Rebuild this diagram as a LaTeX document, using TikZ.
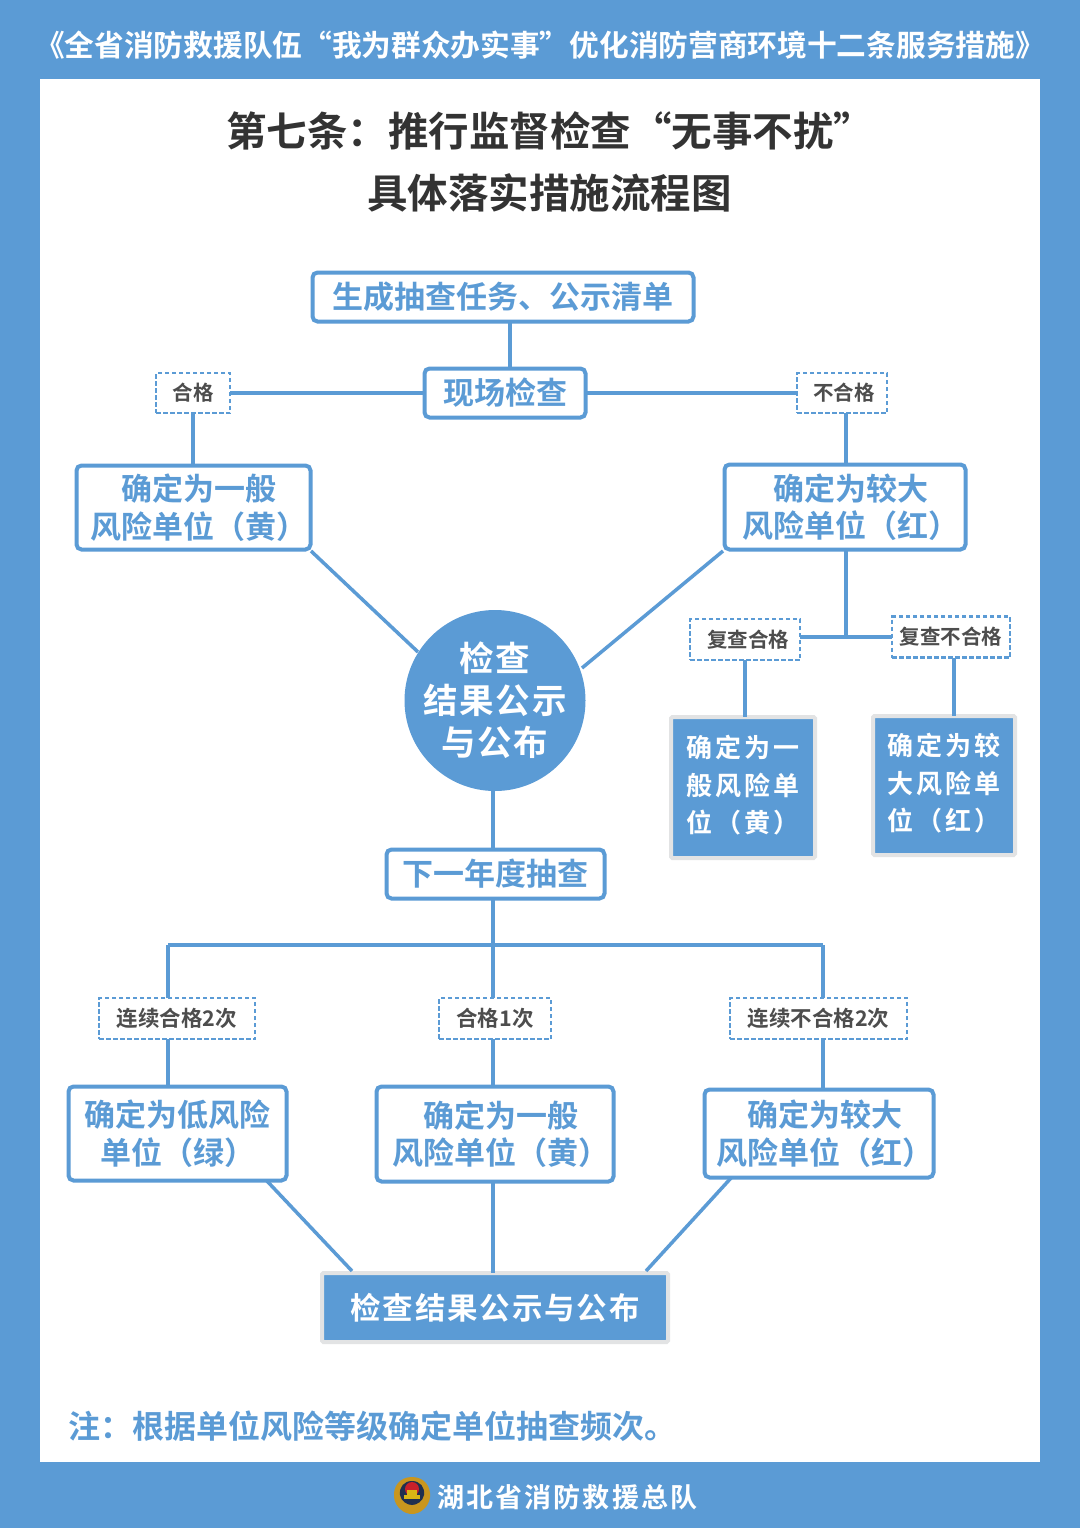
\documentclass[tikz,border=0pt]{standalone}
\usepackage{fontspec}
\setmainfont{Noto Sans CJK SC}
\newfontfamily\cjkb[BoldFont={Noto Sans CJK SC Bold}]{Noto Sans CJK SC}
\newfontfamily\cjkw[LetterSpace=11]{Noto Sans CJK SC Bold}
\newfontfamily\cjkv[LetterSpace=5]{Noto Sans CJK SC Bold}
\newfontfamily\cjkc[LetterSpace=6]{Noto Sans CJK SC Bold}
\newfontfamily\cjkf[LetterSpace=8]{Noto Sans CJK SC Bold}
\definecolor{bl}{HTML}{5B9BD5}
\definecolor{dk}{HTML}{333333}
\definecolor{lab}{HTML}{4D4D4D}
\definecolor{gy}{HTML}{E2E3E4}
\definecolor{gold}{HTML}{C9961E}
\definecolor{navy}{HTML}{1F2F4F}
\definecolor{emred}{HTML}{C8202A}
\newcommand{\sh}{\hspace*{11pt}}
\newcommand{\upblock}[2]{\raisebox{#1}{\begin{tabular}{@{}l@{}}#2\end{tabular}}}
\tikzset{
 x=1pt,y=-1pt,
 conn/.style={draw=bl,line width=3.5pt},
 box/.style={draw=bl,line width=4pt,rounded corners=5pt,fill=white,inner sep=0pt,outer sep=0pt,align=center,text=bl,font=\cjkb\bfseries\fontsize{31}{37.5}\selectfont},
 dbox/.style={draw=bl,line width=2.4pt,dash pattern=on 4.5pt off 2.5pt,fill=white,inner sep=0pt,outer sep=0pt,align=center,text=lab,font=\cjkb\bfseries\fontsize{20.5}{24}\selectfont},
 dboxw/.style={dbox,font=\cjkb\bfseries\fontsize{21.5}{24}\selectfont},
 sbox/.style={draw=gy,line width=4pt,rounded corners=1.5pt,fill=bl,inner sep=0pt,outer sep=0pt,text=white},
 ttl/.style={inner sep=0pt,text=dk,font=\cjkb\bfseries\fontsize{40.5}{48}\selectfont},
}
\begin{document}
\begin{tikzpicture}
\useasboundingbox (0,0) rectangle (1080,1528);
\fill[bl] (0,0) rectangle (1080,1528);
\fill[white] (40,79) rectangle (1040,1462);
% texts
\node[inner sep=0pt,text=white,font=\cjkb\bfseries\fontsize{29.7}{34}\selectfont] (banner) at (540,45) {《全省消防救援队伍“我为群众办实事”优化消防营商环境十二条服务措施》};
\node[ttl] (t1) at (550,131) {第七条：推行监督检查“无事不扰”};
\node[ttl] (t2) at (549.5,193) {具体落实措施流程图};
% upper nodes
\node[box,minimum width=381,minimum height=49] (top) at (503,297) {生成抽查任务、公示清单};
\node[box,minimum width=161,minimum height=49] (site) at (505,393) {现场检查};
\node[dbox,minimum width=74,minimum height=40] (pass) at (193,393) {合格};
\node[dbox,minimum width=90,minimum height=40] (fail) at (842,393) {\hspace*{4pt}不合格};
\node[box,minimum width=234,minimum height=84] (yellow) at (193.5,507.5) {\sh 确定为一般\\\sh 风险单位（黄）};
\node[box,minimum width=241,minimum height=85] (red) at (845,507) {\sh 确定为较大\\\sh 风险单位（红）};
\node[circle,fill=bl,inner sep=-8pt,outer sep=0pt,minimum size=181,align=center,text=white,font=\cjkv\fontsize{34.5}{42}\selectfont] (pub) at (495,700.5) {检查\\结果公示\\与公布};
\node[dbox,minimum width=110,minimum height=41] (rpass) at (745,639.5) {\hspace*{6pt}复查合格};
\node[dbox,minimum width=118,minimum height=41] (rfail) at (951,637) {复查不合格};
\node[sbox,minimum width=144,minimum height=141,font=\cjkw\fontsize{26}{37.5}\selectfont] (ry) at (743,787.5) {\upblock{6pt}{确定为一\\般风险单\\位（黄）}};
\node[sbox,minimum width=142,minimum height=139,font=\cjkw\fontsize{26}{37.5}\selectfont] (rr) at (944,785.5) {\upblock{2pt}{确定为较\\大风险单\\位（红）}};
\node[box,minimum width=218,minimum height=49] (next) at (495.5,874) {下一年度抽查};
% lower nodes
\node[dboxw,minimum width=156,minimum height=41] (c2) at (177,1018.5) {连续合格2次};
\node[dboxw,minimum width=112,minimum height=41] (c1) at (495,1018.5) {合格1次};
\node[dboxw,minimum width=177,minimum height=41] (c0) at (818.5,1018.5) {连续不合格2次};
\node[box,minimum width=218,minimum height=94] (low) at (177.5,1133.5) {确定为低风险\\单位（绿）};
\node[box,minimum width=237,minimum height=95] (mid) at (495,1134) {\sh 确定为一般\\\sh 风险单位（黄）};
\node[box,minimum width=229,minimum height=88] (high) at (819,1133.5) {\sh 确定为较大\\\sh 风险单位（红）};
\node[sbox,minimum width=346,minimum height=69,font=\cjkc\fontsize{30.5}{36}\selectfont] (final) at (495,1307.5) {检查结果公示与公布};
\node[anchor=west,inner sep=0pt,text=bl,font=\cjkb\bfseries\fontsize{32}{36}\selectfont] (note) at (68,1426) {注：根据单位风险等级确定单位抽查频次。};
\node[anchor=west,inner sep=0pt,text=white,font=\cjkf\fontsize{27}{32}\selectfont] (foot) at (437,1497) {湖北省消防救援总队};
% junctions
\coordinate (xa) at (510,345);
\coordinate (xb) at (846,637);
\coordinate (xc) at (954,600);
\coordinate (xd) at (493,945);
\coordinate (xl) at (168,945);
\coordinate (xr) at (823,945);
\coordinate (ya) at (267,1181);
\coordinate (yb) at (352,1271);
\coordinate (yc) at (731,1178);
\coordinate (yd) at (646,1271);
\coordinate (ye) at (311,551);
\coordinate (yf) at (418,652);
\coordinate (yg) at (723,551);
\coordinate (yh) at (582,668);
\draw[conn] (top.south -| xa) -- (site.north -| xa);
\draw[conn] (site.west) -- (pass.east);
\draw[conn] (site.east) -- (fail.west);
\draw[conn] (pass.south) -- (pass.south |- yellow.north);
\draw[conn] (fail.south -| xb) -- (yellow.north -| xb);
\draw[conn] (red.south -| xb) -- (xb);
\draw[conn] (rpass.east |- xb) -- (rfail.west |- xb);
\draw[conn] (rpass.south) -- (rpass.south |- ry.north);
\draw[conn] (rfail.south -| xc) -- (rr.north -| xc);
\draw[conn] (ye) -- (yf);
\draw[conn] (yg) -- (yh);
\draw[conn] (pub.south -| xd) -- (next.north -| xd);
\draw[conn] (next.south -| xd) -- (c1.north -| xd);
\draw[conn] (xl) -- (xr);
\draw[conn] (xl) -- (c2.north -| xl);
\draw[conn] (xr) -- (c0.north -| xr);
\draw[conn] (c2.south -| xl) -- (low.north -| xl);
\draw[conn] (c1.south -| xd) -- (mid.north -| xd);
\draw[conn] (c0.south -| xr) -- (high.north -| xr);
\draw[conn] (ya) -- (yb);
\draw[conn] (mid.south -| xd) -- (final.north -| xd);
\draw[conn] (yc) -- (yd);
% emblem
\fill[gold] (412,1477) .. controls (424,1477) and (431,1486) .. (430,1497) .. controls (429,1507) and (420,1514) .. (412,1514) .. controls (404,1514) and (395,1507) .. (394,1497) .. controls (393,1486) and (400,1477) .. (412,1477);
\fill[navy] (412,1481) .. controls (420,1481) and (425,1487) .. (424,1495) .. controls (423,1501) and (417,1505) .. (412,1505) .. controls (407,1505) and (401,1501) .. (400,1495) .. controls (399,1487) and (404,1481) .. (412,1481);
\fill[emred] (412,1489) circle (7);
\fill[gold!70!yellow] (404,1495) rectangle (420,1499);
\fill[gold!70!yellow] (407,1490) rectangle (417,1495);
\end{tikzpicture}
\end{document}
